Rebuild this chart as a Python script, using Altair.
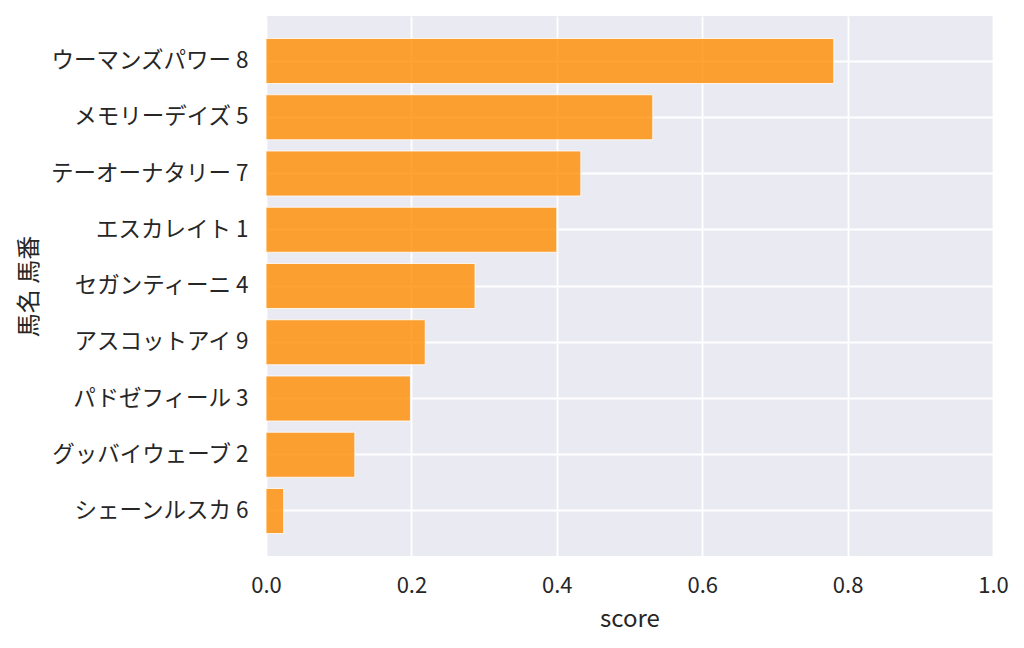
import altair as alt
import pandas as pd

names = ["ウーマンズパワー 8", "メモリーデイズ 5", "テーオーナタリー 7", "エスカレイト 1",
         "セガンティーニ 4", "アスコットアイ 9", "パドゼフィール 3", "グッバイウェーブ 2",
         "シェーンルスカ 6"]
scores = [0.781, 0.532, 0.433, 0.400, 0.2875, 0.219, 0.1987, 0.1222, 0.0243]
x_ticks = [0.0, 0.2, 0.4, 0.6, 0.8, 1.0]

df = pd.DataFrame({"horse": names, "score": scores})

FONT = "Noto Sans CJK JP"
TXT = "#262626"

chart = alt.Chart(df).mark_bar(
    fill="#FF8C00", fillOpacity=0.8, stroke="white", strokeWidth=1, strokeOpacity=0.8
).encode(
    x=alt.X("score:Q", title="score",
            scale=alt.Scale(domain=[0, 1], nice=False, zero=True),
            axis=alt.Axis(values=x_ticks, format=".1f", grid=True, gridColor="white",
                          gridWidth=1.8, ticks=False, domain=False, labelPadding=19,
                          labelFlush=False,
                          labelFontSize=22, titleFontSize=24, titlePadding=11,
                          labelFont=FONT, titleFont=FONT, labelColor=TXT, titleColor=TXT,
                          titleFontWeight="normal")),
    y=alt.Y("horse:N", title="馬名 馬番", sort=names,
            scale=alt.Scale(paddingInner=0.2, paddingOuter=0.4),
            axis=alt.Axis(grid=True, gridColor="white", gridWidth=1.8, bandPosition=0.5,
                          ticks=False, domain=False, labelPadding=18,
                          labelFontSize=22.5, titleFontSize=24, titlePadding=25,
                          labelFont=FONT, titleFont=FONT, labelColor=TXT, titleColor=TXT,
                          titleFontWeight="normal", labelLimit=400)),
).properties(
    width=727, height=540,
    autosize=alt.AutoSizeParams(type="none"),
    padding={"left": 258, "top": 8, "right": 20, "bottom": 80},
).configure(
    background="white",
    view=alt.ViewConfig(fill="#EAEAF2", stroke=None),
)

chart.save("out.html", embed_options={"renderer": "svg", "actions": False})
